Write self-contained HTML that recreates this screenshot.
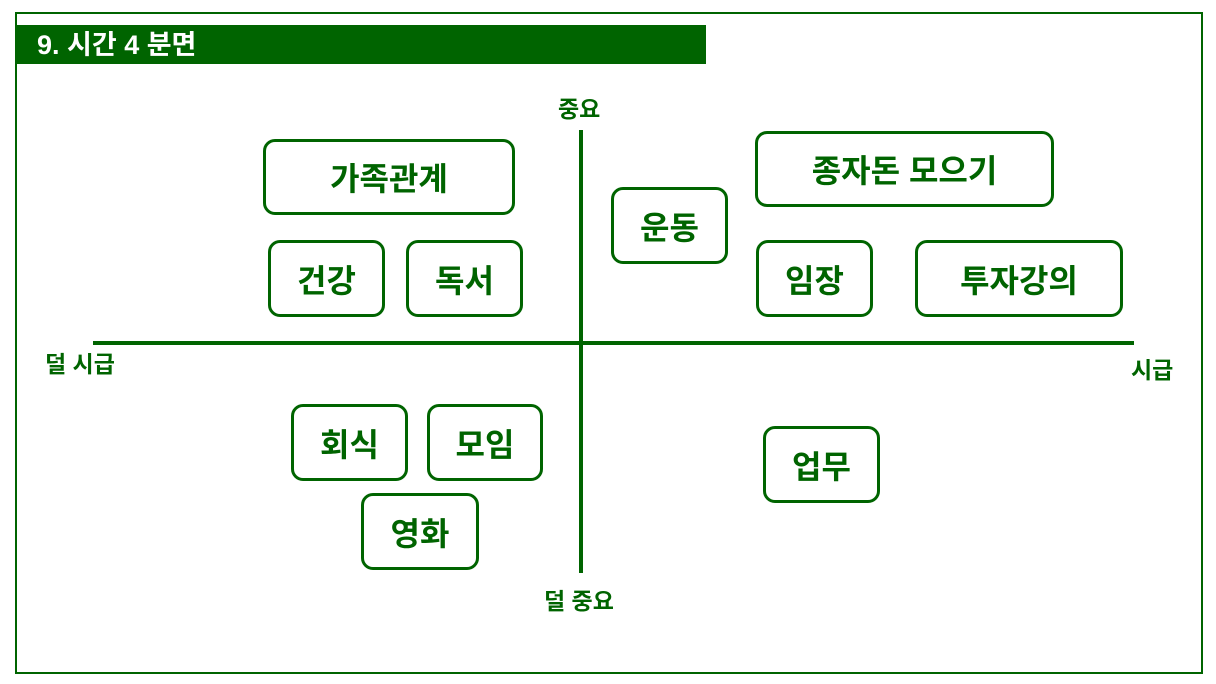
<!DOCTYPE html>
<html><head><meta charset="utf-8"><style>
body{margin:0;width:1216px;height:684px;background:#fff;position:relative;overflow:hidden;font-family:"Liberation Sans","Noto Sans CJK KR",sans-serif;}
.frame{position:absolute;left:15px;top:12px;width:1184px;height:658px;border:2px solid #006400;}
.title{position:absolute;left:17px;top:25px;width:689px;height:39px;background:#006400;color:#fff;font-weight:bold;font-size:27px;line-height:41px;padding-left:20px;box-sizing:border-box;}
.b{position:absolute;border:3px solid #006400;border-radius:12px;box-sizing:border-box;color:#006400;font-weight:bold;font-size:32px;display:flex;align-items:center;justify-content:center;}
.l{position:absolute;color:#006400;font-weight:bold;font-size:23px;line-height:23px;white-space:nowrap;}
.h{position:absolute;background:#006400;}
</style></head><body>
<div class="frame"></div>
<div class="title">9. 시간 4 분면</div>
<div class="h" style="left:93px;top:341px;width:1041px;height:4px"></div>
<div class="h" style="left:579px;top:130px;width:4px;height:443px"></div>
<div class="l" style="left:558px;top:98px">중요</div>
<div class="l" style="left:544px;top:590px">덜 중요</div>
<div class="l" style="left:45px;top:353px">덜 시급</div>
<div class="l" style="left:1131px;top:359px">시급</div>
<div class="b" style="left:263px;top:139px;width:252px;height:76px">가족관계</div>
<div class="b" style="left:611px;top:187px;width:117px;height:77px">운동</div>
<div class="b" style="left:755px;top:131px;width:299px;height:76px">종자돈 모으기</div>
<div class="b" style="left:268px;top:240px;width:117px;height:77px">건강</div>
<div class="b" style="left:406px;top:240px;width:117px;height:77px">독서</div>
<div class="b" style="left:756px;top:240px;width:117px;height:77px">임장</div>
<div class="b" style="left:915px;top:240px;width:208px;height:77px">투자강의</div>
<div class="b" style="left:291px;top:404px;width:117px;height:77px">회식</div>
<div class="b" style="left:427px;top:404px;width:116px;height:77px">모임</div>
<div class="b" style="left:361px;top:493px;width:118px;height:77px">영화</div>
<div class="b" style="left:763px;top:426px;width:117px;height:77px">업무</div>
</body></html>
